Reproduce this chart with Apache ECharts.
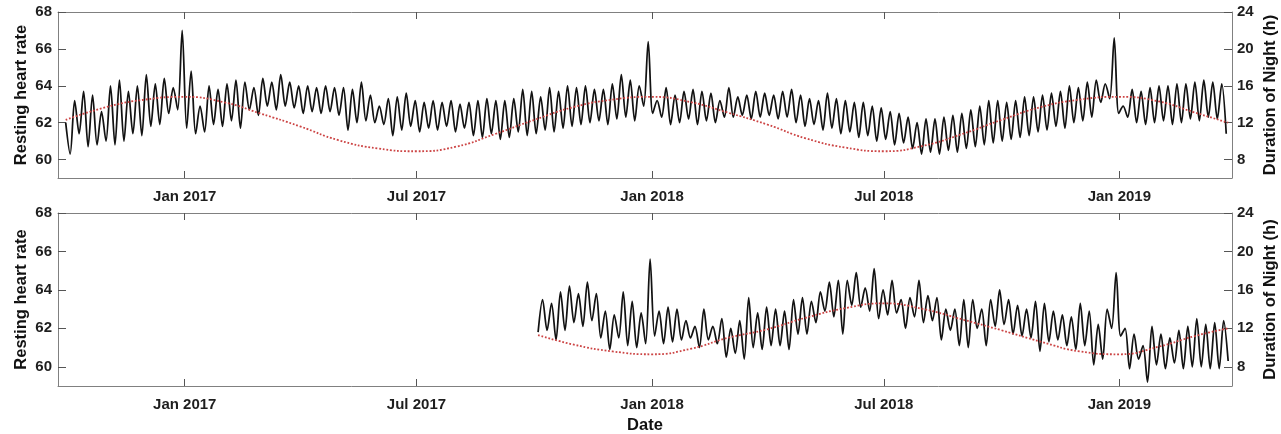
<!DOCTYPE html>
<html>
<head>
<meta charset="utf-8">
<script src="https://cdn.jsdelivr.net/npm/echarts@6/dist/echarts.min.js"></script>
<style>
  html, body { margin: 0; padding: 0; background: #ffffff; }
  #chart { width: 1281px; height: 434px; }
</style>
</head>
<body>
<div id="chart"></div>
<script>
// Resting heart rate, sampled twice a week (weekly high / low), and night length.
const sampleStepDays = 3.5;

const hrTopStart = '2016-09-30';
const hrTop = [
  // autumn 2016 to the New Year peak
  62.0, 60.3,
  63.2, 61.4, 63.7, 60.7, 63.5, 60.8, 62.6, 61.0, 64.0, 60.8, 64.3, 61.0,
  63.7, 61.4, 64.0, 61.3, 64.6, 61.8, 64.1, 61.9, 64.4, 62.5, 63.9, 62.7,
  67.0,
  // 2017
  61.7,
  64.8, 61.4, 62.9, 61.5, 64.0, 61.9, 63.8, 61.8, 64.1, 62.1, 64.3, 61.7,
  64.2, 62.7, 63.9, 62.4, 64.4, 62.9, 64.2, 62.7, 64.6, 62.9, 64.2, 62.8,
  64.0, 62.5, 64.0, 62.6, 63.9, 62.5, 64.0, 62.6, 63.9, 62.4, 63.9, 61.6,
  63.8, 62.0,
  64.2, 62.1, 63.5, 62.0, 62.9, 61.9, 63.3, 61.3, 63.4, 61.6, 63.6, 61.8,
  63.2, 61.5, 63.1, 61.7, 63.2, 61.6, 63.1, 61.8, 63.2, 61.5, 63.0, 61.7,
  63.1, 61.3, 63.2, 61.2, 63.3, 61.4, 63.2, 61.1, 63.2, 61.2, 63.3, 61.5,
  63.8, 61.3, 63.7, 61.4, 63.4, 61.6, 63.9, 61.5, 63.7, 61.7, 64.0, 61.8,
  63.9, 61.9, 64.0, 62.0, 63.8, 62.1, 63.8, 61.9, 64.1, 62.2, 64.6, 62.3,
  64.3, 62.1, 64.0, 62.9,
  66.4,
  // 2018
  62.5,
  63.2, 62.3, 63.9, 61.9, 63.5, 62.0, 63.7, 62.2, 63.8, 61.9, 63.7, 62.1,
  63.6, 62.0, 63.2, 62.3, 63.9, 62.3, 63.4, 62.4, 63.5, 62.2, 63.7, 62.3,
  63.6, 62.4, 63.5, 62.2, 63.7, 62.3, 63.8, 62.0, 63.5, 61.8, 63.3, 61.9,
  63.2, 61.6, 63.6, 61.7, 63.3, 61.4, 63.2, 61.5, 63.1, 61.2, 63.1, 61.3,
  62.9, 61.0, 62.8, 61.1, 62.6, 60.8, 62.5, 60.9, 62.3, 60.6, 62.0, 60.3,
  62.2, 60.4, 62.2, 60.3, 62.3, 60.5, 62.4, 60.4, 62.5, 60.6, 62.7, 60.7,
  62.9, 60.8, 63.2, 60.9, 63.2, 61.0, 63.1, 61.1, 63.2, 61.2, 63.4, 61.3,
  63.4, 61.5, 63.5, 61.6, 63.6, 61.8, 63.7, 61.7, 64.0, 62.0, 63.9, 62.1,
  64.2, 62.3, 64.3, 63.1, 64.1, 63.3,
  66.6,
  // early 2019
  62.5,
  62.9, 62.3, 63.8, 62.0, 63.7, 61.9, 63.9, 62.0, 64.0, 62.1, 64.0, 61.9,
  64.1, 62.0, 64.1, 62.2, 64.2, 62.1, 64.3, 62.3, 64.2, 62.2,
  64.1, 61.4
];

const hrBottomStart = '2017-10-04';
const hrBottom = [
  61.8,
  63.5, 61.9, 63.3, 61.4, 63.9, 61.9, 64.2, 62.3, 63.8, 62.1, 64.4, 62.4,
  63.8, 61.5, 62.9, 60.9, 62.7, 61.5, 63.9, 61.1, 63.4, 61.0, 62.8, 61.2,
  65.6,
  61.6,
  62.9, 61.2, 63.1, 61.3, 63.0, 61.4, 62.4, 61.5, 62.1, 61.0, 63.0, 61.4,
  62.1, 61.2, 62.5, 60.5, 62.0, 60.7, 62.4, 60.4, 63.6, 61.0, 62.8, 60.9,
  63.1, 61.1, 63.0, 61.1, 62.9, 60.9, 63.5, 61.7, 63.6, 61.7, 63.4, 62.3,
  63.9, 62.9, 64.4, 62.6, 64.5, 61.7, 64.5, 63.2, 64.9, 63.1, 64.1, 62.9,
  65.1, 62.5, 64.0, 62.7,
  64.5, 62.8, 63.5, 62.0, 63.6, 62.6, 64.5, 62.3, 63.7, 62.4, 63.6, 61.4,
  63.0, 61.9, 63.0, 61.1, 63.5, 61.0, 63.5, 62.0, 63.0, 61.1, 63.5, 62.1,
  64.0, 62.2, 63.5, 61.7, 63.2, 61.6, 63.0, 61.5, 63.4, 60.8, 63.3, 61.3,
  62.9, 61.4, 62.7, 61.1,
  62.6, 60.9, 63.3, 61.1, 62.9, 60.1, 62.2, 60.4, 63.0, 62.0,
  64.9,
  61.6,
  62.0, 59.9, 61.7, 60.4, 61.1, 59.2, 62.1, 60.1, 61.7, 59.9, 61.5, 60.2,
  61.9, 59.9, 62.1, 60.0, 62.5, 60.0, 62.2, 59.9, 62.3, 59.9, 62.4, 60.3
];

// Night length in hours (right axis)
const nightTopDates = [
  '2016-09-30', '2016-11-01', '2016-12-01', '2017-01-01', '2017-02-01', '2017-03-01',
  '2017-04-01', '2017-05-01', '2017-06-01', '2017-07-01', '2017-08-01', '2017-09-01',
  '2017-10-01', '2017-11-01', '2017-12-01', '2018-01-01', '2018-02-01', '2018-03-01',
  '2018-04-01', '2018-05-01', '2018-06-01', '2018-07-01', '2018-08-01', '2018-09-01',
  '2018-10-01', '2018-11-01', '2018-12-01', '2019-01-01', '2019-02-01', '2019-03-01',
  '2019-03-27'
];
const nightTopHours = [
  12.3, 13.7, 14.5, 14.8, 14.2, 13.0,
  11.6, 10.1, 9.2, 8.9, 9.4, 10.8,
  12.3, 13.7, 14.5, 14.8, 14.2, 13.1,
  11.8, 10.3, 9.3, 8.9, 9.5, 10.8,
  12.3, 13.7, 14.5, 14.8, 14.3, 13.1,
  12.0
];
const nightBottomDates = [
  '2017-10-04', '2017-11-01', '2017-12-01', '2018-01-01', '2018-02-01', '2018-03-01',
  '2018-04-01', '2018-05-01', '2018-06-01', '2018-07-01', '2018-08-01', '2018-09-01',
  '2018-10-01', '2018-11-01', '2018-12-01', '2019-01-01', '2019-02-01', '2019-03-01',
  '2019-03-27'
];
const nightBottomHours = [
  11.3, 10.3, 9.6, 9.3, 9.9, 11.0,
  11.9, 13.1, 14.1, 14.6, 14.0, 12.9,
  11.8, 10.6, 9.6, 9.3, 10.1, 11.2,
  12.0
];

const dateTicks = ['2017-01-01', '2017-07-01', '2018-01-01', '2018-07-01', '2019-01-01'];
const hrTicks = [60, 62, 64, 66, 68];
const nightTicks = [8, 12, 16, 20, 24];
const monthNames = ['Jan', 'Feb', 'Mar', 'Apr', 'May', 'Jun', 'Jul', 'Aug', 'Sep', 'Oct', 'Nov', 'Dec'];

const DAY_MS = 86400000;
function toTime(s) {
  const p = s.split('-').map(Number);
  return Date.UTC(p[0], p[1] - 1, p[2]);
}
function sampled(start, values) {
  const t0 = toTime(start);
  return values.map((v, i) => [t0 + i * sampleStepDays * DAY_MS, v]);
}
function paired(dates, values) {
  return dates.map((d, i) => [toTime(d), values[i]]);
}

const xMin = toTime('2016-09-24');
const xMax = toTime('2019-03-30');
const tickTimes = dateTicks.map(toTime);
const FONT = "'Liberation Sans', Arial, Helvetica, sans-serif";
const frameLine = { color: '#808080', width: 1 };
const tickLine = { color: '#555555', width: 1 };
const labelStyle = { color: '#1e1e1e', fontWeight: 'bold', fontSize: 15, fontFamily: FONT };
const titleStyle = { color: '#111111', fontWeight: 'bold', fontSize: 16.5, fontFamily: FONT };

function dateLabel(v) {
  const d = new Date(v);
  return monthNames[d.getUTCMonth()] + ' ' + d.getUTCFullYear();
}

// Dates are kept as millisecond values on a linear axis so the tick set can be fixed.
function xAxesFor(gridIndex, title) {
  return [
    {
      type: 'value', gridIndex, position: 'bottom', min: xMin, max: xMax,
      axisLine: { show: true, onZero: false, lineStyle: frameLine },
      axisTick: { show: true, inside: true, length: 7, customValues: tickTimes, lineStyle: tickLine },
      axisLabel: Object.assign({ show: true, customValues: tickTimes, formatter: dateLabel, margin: 11 }, labelStyle),
      splitLine: { show: false },
      name: title, nameLocation: 'middle', nameGap: 31, nameMoveOverlap: false,
      nameTextStyle: titleStyle
    },
    {
      type: 'value', gridIndex, position: 'top', min: xMin, max: xMax,
      axisLine: { show: true, onZero: false, lineStyle: frameLine },
      axisTick: { show: true, inside: true, length: 7, customValues: tickTimes, lineStyle: tickLine },
      axisLabel: { show: false },
      splitLine: { show: false }
    }
  ];
}

function yAxesFor(gridIndex) {
  return [
    {
      type: 'value', gridIndex, position: 'left', min: 59, max: 68,
      axisLine: { show: true, onZero: false, lineStyle: frameLine },
      axisTick: { show: true, inside: true, length: 8, customValues: hrTicks, lineStyle: tickLine },
      axisLabel: Object.assign({ customValues: hrTicks, margin: 6 }, labelStyle),
      splitLine: { show: false },
      name: 'Resting heart rate', nameLocation: 'middle', nameGap: 28, nameRotate: 90,
      nameMoveOverlap: false, nameTextStyle: titleStyle
    },
    {
      type: 'value', gridIndex, position: 'right', min: 6, max: 24,
      axisLine: { show: true, onZero: false, lineStyle: frameLine },
      axisTick: { show: true, inside: true, length: 8, customValues: nightTicks, lineStyle: tickLine },
      axisLabel: Object.assign({ customValues: nightTicks, margin: 5 }, labelStyle),
      splitLine: { show: false },
      name: 'Duration of Night (h)', nameLocation: 'middle', nameGap: 30, nameRotate: 90,
      nameMoveOverlap: false, nameTextStyle: titleStyle
    }
  ];
}

const hrLine = { color: '#121212', width: 1.75 };
const nightLine = { color: '#cc4444', width: 1.8, type: 'dotted' };

const option = {
  animation: false,
  backgroundColor: '#ffffff',
  grid: [
    { left: 58, right: 49, top: 12, height: 166, outerBoundsMode: 'none', containLabel: false },
    { left: 58, right: 49, top: 213, height: 173, outerBoundsMode: 'none', containLabel: false }
  ],
  xAxis: [].concat(xAxesFor(0, ''), xAxesFor(1, 'Date')),
  yAxis: [].concat(yAxesFor(0), yAxesFor(1)),
  series: [
    { type: 'line', xAxisIndex: 0, yAxisIndex: 0, data: sampled(hrTopStart, hrTop),
      showSymbol: false, smooth: 0.3, lineStyle: hrLine, z: 2 },
    { type: 'line', xAxisIndex: 0, yAxisIndex: 1, data: paired(nightTopDates, nightTopHours),
      showSymbol: false, smooth: true, lineStyle: nightLine, z: 3 },
    { type: 'line', xAxisIndex: 2, yAxisIndex: 2, data: sampled(hrBottomStart, hrBottom),
      showSymbol: false, smooth: 0.3, lineStyle: hrLine, z: 2 },
    { type: 'line', xAxisIndex: 2, yAxisIndex: 3, data: paired(nightBottomDates, nightBottomHours),
      showSymbol: false, smooth: true, lineStyle: nightLine, z: 3 }
  ]
};

const chart = echarts.init(document.getElementById('chart'), null, { renderer: 'canvas' });
chart.setOption(option);
</script>
</body>
</html>
